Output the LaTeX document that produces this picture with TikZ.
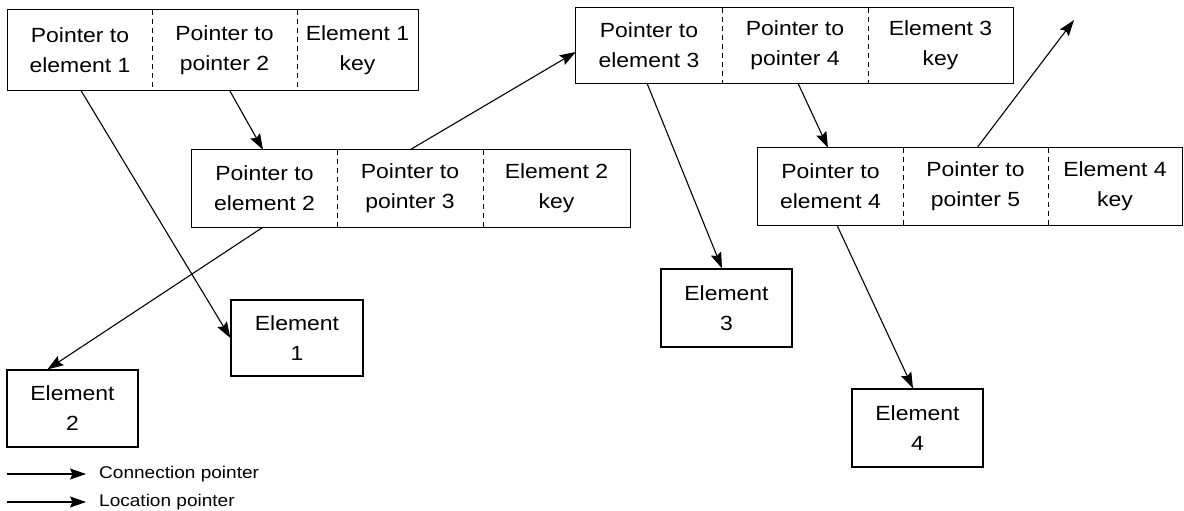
\documentclass[tikz,border=0pt]{standalone}
\usepackage{fontspec}
\setmainfont{Liberation Sans}[FakeStretch=1.12]
\usetikzlibrary{arrows.meta}
\begin{document}
\begin{tikzpicture}[x=1pt,y=-1pt,
  cell/.style={inner sep=0pt, align=center, font=\fontsize{20.5}{30}\selectfont},
  elem/.style={draw, line width=1.2pt, inner sep=0pt, align=center, minimum width=131pt, font=\fontsize{20.5}{30}\selectfont},
  outer/.style={line width=1.2pt},
  divider/.style={line width=1pt, dash pattern=on 5pt off 4pt},
  ptr/.style={line width=1.1pt, -{Stealth[length=16pt,width=11pt,inset=2.5pt]}},
  legtext/.style={anchor=west, inner sep=0pt, font=\fontsize{17}{20}\selectfont}]
\fill[white] (0,0) rectangle (1184,511);
\useasboundingbox (0,0) rectangle (1184,511);
% record 1
\node[cell, minimum width=144pt, minimum height=80pt] (b1a) at (80,50) {Pointer to\\element 1};
\node[cell, minimum width=145pt, minimum height=80pt] (b1b) at (224.5,50) {Pointer to\\pointer 2};
\node[cell, minimum width=121pt, minimum height=80pt] (b1c) at (357.5,50) {Element 1\\key};
\draw[outer] (b1a.north west) rectangle (b1c.south east);
\draw[divider] (b1a.north east) -- (b1a.south east);
\draw[divider] (b1b.north east) -- (b1b.south east);
% record 2
\node[cell, minimum width=145pt, minimum height=77pt] (b2a) at (264.5,188.5) {Pointer to\\element 2};
\node[cell, minimum width=146pt, minimum height=77pt] (b2b) at (410,188.5) {Pointer to\\pointer 3};
\node[cell, minimum width=147pt, minimum height=77pt] (b2c) at (556.5,188.5) {Element 2\\key};
\draw[outer] (b2a.north west) rectangle (b2c.south east);
\draw[divider] (b2a.north east) -- (b2a.south east);
\draw[divider] (b2b.north east) -- (b2b.south east);
% record 3
\node[cell, minimum width=146pt, minimum height=75pt] (b3a) at (649,45.5) {Pointer to\\element 3};
\node[cell, minimum width=146pt, minimum height=75pt] (b3b) at (795,45.5) {Pointer to\\pointer 4};
\node[cell, minimum width=145pt, minimum height=75pt] (b3c) at (940.5,45.5) {Element 3\\key};
\draw[outer] (b3a.north west) rectangle (b3c.south east);
\draw[divider] (b3a.north east) -- (b3a.south east);
\draw[divider] (b3b.north east) -- (b3b.south east);
% record 4
\node[cell, minimum width=145pt, minimum height=77pt] (b4a) at (830.5,186.5) {Pointer to\\element 4};
\node[cell, minimum width=145pt, minimum height=77pt] (b4b) at (975.5,186.5) {Pointer to\\pointer 5};
\node[cell, minimum width=134pt, minimum height=77pt] (b4c) at (1115,186.5) {Element 4\\key};
\draw[outer] (b4a.north west) rectangle (b4c.south east);
\draw[divider] (b4a.north east) -- (b4a.south east);
\draw[divider] (b4b.north east) -- (b4b.south east);
% elements
\node[elem, minimum height=76pt, minimum width=132pt] (e1) at (297,338) {Element\\1};
\node[elem, minimum height=77pt] (e2) at (72.5,408.5) {Element\\2};
\node[elem, minimum height=78pt] (e3) at (726.5,308) {Element\\3};
\node[elem, minimum height=78pt] (e4) at (917.5,428) {Element\\4};
\coordinate (p5) at (1074,20);
% pointers
\draw[ptr] ([xshift=73pt]b1a.south west) -- (e1.west);
\draw[ptr] ([xshift=5pt]b1b.south) -- ([xshift=-1.5pt]b2a.north);
\draw[ptr] (b2b.north) -- ([yshift=-6.5pt]b3a.west);
\draw[ptr] ([xshift=-1.5pt]b2a.south) -- ([xshift=41pt]e2.north west);
\draw[ptr] ([xshift=-2pt]b3a.south) -- ([xshift=-4.5pt]e3.north);
\draw[ptr] ([xshift=3pt]b3b.south) -- ([xshift=-2.5pt]b4a.north);
\draw[ptr] ([xshift=1.5pt]b4b.north) -- (p5);
\draw[ptr] ([xshift=6.5pt]b4a.south) -- ([xshift=-4.5pt]e4.north);
% legend
\coordinate (l1) at (7,474);
\coordinate (l2) at (7,502);
\node[legtext] (t1) at (99,474) {Connection pointer};
\node[legtext] (t2) at (99,502) {Location pointer};
\draw[ptr] (l1) -- ([xshift=-13pt]t1.west);
\draw[ptr] (l2) -- ([xshift=-13pt]t2.west);
\end{tikzpicture}
\end{document}
